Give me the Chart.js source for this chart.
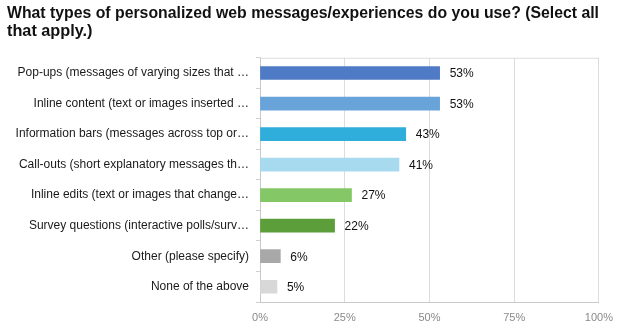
<!DOCTYPE html>
<html>
<head>
<meta charset="utf-8">
<script src="https://cdn.jsdelivr.net/npm/chart.js@4/dist/chart.umd.min.js"></script>
<style>
  html, body { margin: 0; padding: 0; background: #fff; }
  #wrap { width: 622px; height: 329px; position: relative; }
</style>
</head>
<body>
<div id="wrap"><canvas id="c" width="622" height="329"></canvas></div>
<script>
const titleLines = [
  "What types of personalized web messages/experiences do you use? (Select all",
  "that apply.)"
];
const categories = [
  "Pop-ups (messages of varying sizes that …",
  "Inline content (text or images inserted …",
  "Information bars (messages across top or…",
  "Call-outs (short explanatory messages th…",
  "Inline edits (text or images that change…",
  "Survey questions (interactive polls/surv…",
  "Other (please specify)",
  "None of the above"
];
const values = [53, 53, 43, 41, 27, 22, 6, 5];
const barColors = ["#4e7ac6", "#68a4da", "#2faedb", "#a7d9ef", "#84c766", "#5c9e3a", "#a8a8a8", "#d8d8d8"];
const xTicks = [0, 25, 50, 75, 100];

const FONT = "'Liberation Sans', Arial, Helvetica, sans-serif";

const valueLabels = {
  id: 'valueLabels',
  afterDatasetsDraw(chart) {
    const ctx = chart.ctx;
    const meta = chart.getDatasetMeta(0);
    ctx.save();
    ctx.font = "12px " + FONT;
    ctx.fillStyle = "#111";
    ctx.textAlign = "left";
    ctx.textBaseline = "middle";
    meta.data.forEach((bar, i) => {
      ctx.fillText(values[i] + "%", bar.x + 10, bar.y + 1);
    });
    ctx.restore();
  }
};

const topBorder = {
  id: 'topBorder',
  beforeDatasetsDraw(chart) {
    const a = chart.chartArea;
    const ctx = chart.ctx;
    ctx.save();
    ctx.strokeStyle = "#dcdcdc";
    ctx.lineWidth = 1;
    ctx.beginPath();
    ctx.moveTo(a.left, a.top + 0.5);
    ctx.lineTo(a.right, a.top + 0.5);
    ctx.stroke();
    ctx.restore();
  }
};

new Chart(document.getElementById('c'), {
  type: 'bar',
  data: {
    labels: categories,
    datasets: [{
      data: values,
      backgroundColor: barColors,
      borderWidth: 0,
      barThickness: 13
    }]
  },
  options: {
    indexAxis: 'y',
    responsive: false,
    animation: false,
    devicePixelRatio: 1,
    layout: { padding: { left: 7, right: 23, top: 0, bottom: 0 } },
    plugins: {
      legend: { display: false },
      tooltip: { enabled: false },
      title: {
        display: true,
        text: titleLines,
        align: 'start',
        color: '#111',
        font: { family: FONT, size: 16.25, weight: 'bold', lineHeight: 1.1 },
        padding: { top: 5, bottom: 17 }
      }
    },
    scales: {
      x: {
        min: 0,
        max: 100,
        afterBuildTicks(scale) { scale.ticks = xTicks.map(v => ({ value: v })); },
        afterFit(scale) { scale.height = 27; },
        grid: { color: '#dcdcdc', drawTicks: false, lineWidth: 1 },
        border: { color: '#c8c8c8' },
        ticks: {
          color: '#8a8a8a',
          font: { family: FONT, size: 11 },
          padding: 9,
          callback: (v) => v + '%'
        }
      },
      y: {
        afterFit(scale) { scale.width = 253; },
        grid: { drawOnChartArea: false, drawTicks: true, tickLength: 4, color: '#d0d0d0', offset: true },
        border: { color: '#c8c8c8' },
        ticks: {
          color: '#1a1a1a',
          font: { family: FONT, size: 12 },
          padding: 7
        }
      }
    }
  },
  plugins: [valueLabels, topBorder]
});
</script>
</body>
</html>
